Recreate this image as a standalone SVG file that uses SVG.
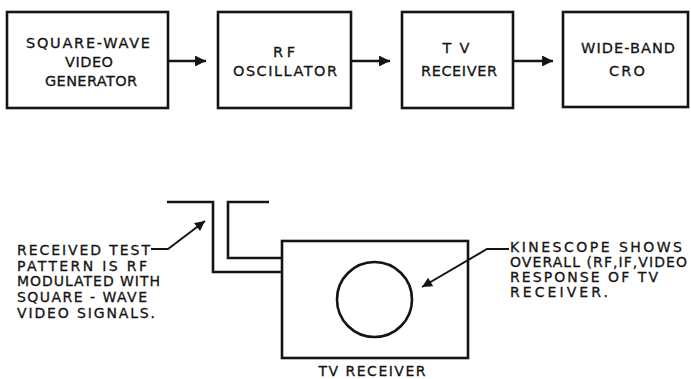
<svg xmlns="http://www.w3.org/2000/svg" width="691" height="379" viewBox="0 0 691 379">
<style>
.box{fill:none;stroke:#141414;stroke-width:2.6}
.ln{fill:none;stroke:#141414;stroke-width:2.6}
.ld{fill:none;stroke:#141414;stroke-width:2}
text{font-family:"DejaVu Sans","Liberation Sans",Arial,sans-serif;font-size:14.5px;fill:#141414;stroke:#141414;stroke-width:0.3}
.a{font-size:14px}
.c{text-anchor:middle}
</style>
<defs>
<marker id="ah" viewBox="0 0 10 10" refX="10" refY="5" markerWidth="4.2" markerHeight="4.2" orient="auto" markerUnits="strokeWidth">
<path d="M0,0 L10,5 L0,10 z" fill="#141414"/>
</marker>
<marker id="ah2" viewBox="0 0 10 10" refX="10" refY="5" markerWidth="6" markerHeight="5" orient="auto" markerUnits="strokeWidth">
<path d="M0,0 L10,5 L0,10 z" fill="#141414"/>
</marker>
</defs>
<rect width="691" height="379" fill="#ffffff"/>

<g id="n1">
<rect class="box" x="7" y="12" width="161" height="96"/>
<text class="c" x="88" y="48" textLength="124" lengthAdjust="spacing">SQUARE-WAVE</text>
<text class="c" x="89" y="67" textLength="48" lengthAdjust="spacing">VIDEO</text>
<text class="c" x="91" y="86" textLength="92" lengthAdjust="spacing">GENERATOR</text>
</g>
<g id="n2">
<rect class="box" x="218" y="12" width="133" height="96"/>
<text class="c" x="284" y="57" textLength="22" lengthAdjust="spacing">RF</text>
<text class="c" x="285" y="76" textLength="104" lengthAdjust="spacing">OSCILLATOR</text>
</g>
<g id="n3">
<rect class="box" x="402" y="12" width="111" height="96"/>
<text class="c" x="456" y="53" textLength="27" lengthAdjust="spacing">TV</text>
<text class="c" x="459" y="76" textLength="76" lengthAdjust="spacing">RECEIVER</text>
</g>
<g id="n4">
<rect class="box" x="563" y="12" width="125" height="95"/>
<text class="c" x="628" y="53" textLength="94" lengthAdjust="spacing">WIDE-BAND</text>
<text class="c" x="627" y="76" textLength="36" lengthAdjust="spacing">CRO</text>
</g>

<g id="tv">
<rect class="box" x="282" y="241" width="186" height="117"/>
<circle cx="374.5" cy="299.5" r="37.5" fill="none" stroke="#141414" stroke-width="2.6"/>
<text class="c a" x="372" y="376" textLength="107" lengthAdjust="spacing">TV RECEIVER</text>
</g>

<g id="antenna">
<polyline class="ln" points="167,202 213,202 213,272 282,272"/>
<polyline class="ln" points="269,202 228,202 228,258 282,258"/>
</g>

<g id="note-left">
<text class="a" x="17" y="255" textLength="133" lengthAdjust="spacing">RECEIVED TEST</text>
<text class="a" x="17" y="271" textLength="130" lengthAdjust="spacing">PATTERN IS RF</text>
<text class="a" x="17" y="286" textLength="143" lengthAdjust="spacing">MODULATED WITH</text>
<text class="a" x="17" y="302" textLength="130" lengthAdjust="spacing">SQUARE - WAVE</text>
<text class="a" x="17" y="318" textLength="138" lengthAdjust="spacing">VIDEO SIGNALS.</text>
</g>

<g id="note-right">
<text class="a" x="510" y="252" textLength="172" lengthAdjust="spacing">KINESCOPE SHOWS</text>
<text class="a" x="510" y="267" textLength="177" lengthAdjust="spacing">OVERALL (RF,IF,VIDEO</text>
<text class="a" x="510" y="282" textLength="148" lengthAdjust="spacing">RESPONSE OF TV</text>
<text class="a" x="510" y="297" textLength="98" lengthAdjust="spacing">RECEIVER.</text>
</g>

<g id="connectors">
<line class="ln" x1="168" y1="61" x2="206" y2="61" marker-end="url(#ah)"/>
<line class="ln" x1="351" y1="61" x2="390" y2="61" marker-end="url(#ah)"/>
<line class="ln" x1="513" y1="61" x2="553" y2="61" marker-end="url(#ah)"/>
<polyline class="ld" points="151,249 168,249 205,221" marker-end="url(#ah2)"/>
<polyline class="ld" points="509,249 487,249 422,287" marker-end="url(#ah2)"/>
</g>
</svg>
